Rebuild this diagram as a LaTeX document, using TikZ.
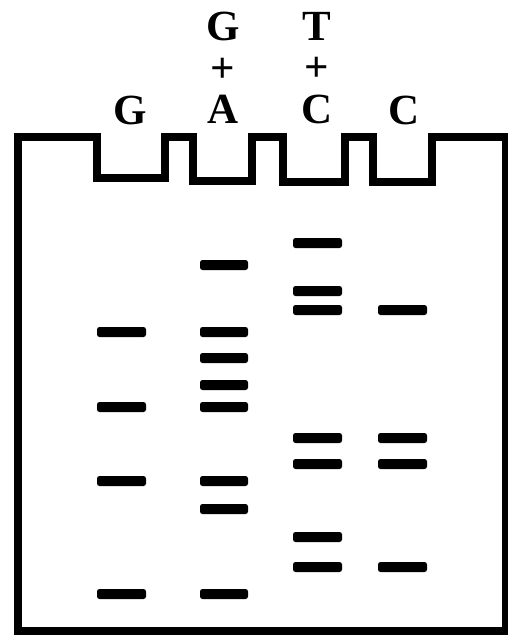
\documentclass[tikz,border=0pt]{standalone}
\usepackage{fontspec}
\setmainfont{Liberation Serif}
\begin{document}
\begin{tikzpicture}[x=1pt,y=-1pt,
  gel/.style={line width=8pt, line join=miter},
  band/.style={fill=black, rounded corners=2.5pt},
  lbl/.style={font=\fontsize{43}{41.5}\selectfont\bfseries, inner sep=0pt, anchor=base},
  stack/.style={font=\fontsize{43}{41.5}\selectfont\bfseries, inner sep=0pt, align=center, anchor=south}]
\useasboundingbox (0,0) rectangle (508,637);
% gel outline with wells
\draw[gel] (18,631) -- (18,137) -- (97,137) -- (97,178) -- (165,178) -- (165,137)
  -- (193,137) -- (193,181) -- (252,181) -- (252,137)
  -- (283,137) -- (283,182) -- (345,182) -- (345,137)
  -- (373,137) -- (373,182) -- (432,182) -- (432,137)
  -- (506,137) -- (506,631) -- cycle;
% labels
\node[lbl] (lG) at (130,124) {G};
\node[stack] (lGA) at (223,124) {G\\+\\A};
\node[stack] (lTC) at (317,124) {T\\+\\C};
\node[lbl] (lC) at (404,124) {C};
% bands: lane G
\foreach \y in {332,407,481,594} \fill[band] (97,\y-5) rectangle (146,\y+5);
% lane G+A
\foreach \y in {265,332,358,385,407,481,509,594} \fill[band] (200,\y-5) rectangle (248,\y+5);
% lane T+C
\foreach \y in {243,291,310,438,464,537,567} \fill[band] (293,\y-5) rectangle (342,\y+5);
% lane C
\foreach \y in {310,438,464,567} \fill[band] (378,\y-5) rectangle (427,\y+5);
\end{tikzpicture}
\end{document}
